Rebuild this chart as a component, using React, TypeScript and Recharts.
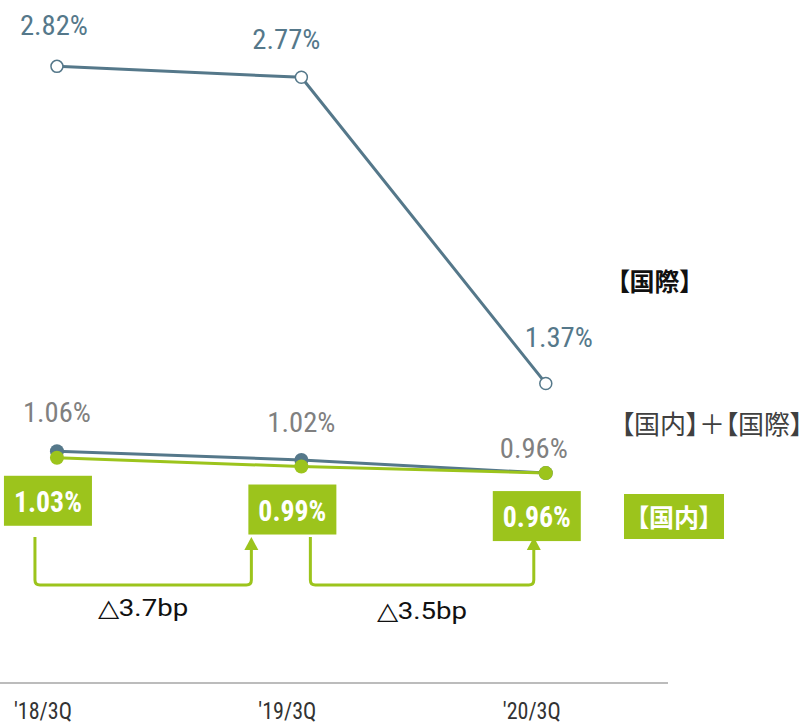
import { LineChart, Line, XAxis, YAxis, LabelList, ReferenceLine } from 'recharts';

const periods = ["'18/3Q", "'19/3Q", "'20/3Q"];
const international = [2.82, 2.77, 1.37];
const combined = [1.06, 1.02, 0.96];
const domestic = [1.03, 0.99, 0.96];
const deltas = ['△3.7bp', '△3.5bp'];

const SLATE = '#55788a';
const GREEN = '#9cc41c';
const GRAY = '#808080';
const NUM_FONT = "'Liberation Sans Narrow', 'Roboto Condensed', Roboto, sans-serif";
const JP_FONT = "'Noto Sans CJK JP', sans-serif";

const data = periods.map((p, i) => ({
  idx: i,
  period: p,
  international: international[i],
  combined: combined[i],
  domestic: domestic[i],
}));

// label offsets from each point, by index
const intlOffsets = [[-3, -41], [-15, -38], [13, -46]];
const combOffsets = [[0, -39], [0, -38], [-12, -25]];

const valueLabel = (offsets: number[][], color: string) => (props: any) => {
  const { x, y, value, index } = props;
  const [dx, dy] = offsets[index];
  return (
    <text
      x={x + dx}
      y={y + dy + 10}
      textAnchor="middle"
      fill={color}
      fontSize={28}
      fontFamily={NUM_FONT}
      textLength={68}
      lengthAdjust="spacingAndGlyphs"
    >
      {value.toFixed(2)}%
    </text>
  );
};

const boxLabel = (props: any) => {
  const { x, y, value } = props;
  return (
    <g>
      <rect x={x - 53} y={y + 18} width={88} height={50} fill={GREEN} />
      <text
        x={x - 9}
        y={y + 54}
        textAnchor="middle"
        fill="#fff"
        fontSize={29}
        fontWeight="bold"
        fontFamily={NUM_FONT}
        textLength={68}
        lengthAdjust="spacingAndGlyphs"
      >
        {value.toFixed(2)}%
      </text>
    </g>
  );
};

const PeriodTick = (props: any) => {
  const { x, y, payload } = props;
  return (
    <text
      x={x - 14}
      y={y + 28}
      textAnchor="middle"
      fill="#333"
      fontSize={23}
      fontFamily={NUM_FONT}
      textLength={58}
      lengthAdjust="spacingAndGlyphs"
    >
      {periods[payload.value]}
    </text>
  );
};

const bracketEnds = [[-22, -50], [9, -12]];

const bracket = (n: number) => (props: any) => {
  const { x1, y1, x2 } = props;
  const [a, b] = bracketEnds[n];
  const l = x1 + a;
  const r = x2 + b;
  const top = y1 - 48;
  const rad = 5;
  const d = `M${l},${top} L${l},${y1 - rad} Q${l},${y1} ${l + rad},${y1} L${r - rad},${y1} Q${r},${y1} ${r},${y1 - rad} L${r},${top + 12}`;
  return (
    <g>
      <path d={d} fill="none" stroke={GREEN} strokeWidth={3} />
      <path d={`M${r - 7},${top + 13} L${r},${top} L${r + 7},${top + 13} Z`} fill={GREEN} />
      <text
        x={(l + r) / 2}
        y={y1 + 31 + n * 3}
        textAnchor="middle"
        fill="#111"
        fontSize={24}
        fontFamily="Roboto, sans-serif"
        textLength={90}
        lengthAdjust="spacingAndGlyphs"
      >
        {deltas[n]}
      </text>
    </g>
  );
};

const BRACKET_LEVEL = 0.448;

export default function App() {
  return (
    <div style={{ position: 'absolute', left: 0, top: 0, width: 810, height: 723, background: '#fff' }}>
      <LineChart
        width={810}
        height={723}
        data={data}
        margin={{ top: 27, right: 142, bottom: 0, left: 0 }}
      >
        <XAxis
          dataKey="idx"
          type="number"
          domain={[-0.233, 2.5]}
          ticks={[0, 1, 2]}
          height={40}
          axisLine={{ stroke: '#a6a6a6', strokeWidth: 1.5 }}
          tickLine={false}
          tick={<PeriodTick />}
        />
        <YAxis type="number" domain={[0, 3]} hide />
        <ReferenceLine
          segment={[{ x: 0, y: BRACKET_LEVEL }, { x: 1, y: BRACKET_LEVEL }]}
          ifOverflow="visible"
          shape={bracket(0)}
        />
        <ReferenceLine
          segment={[{ x: 1, y: BRACKET_LEVEL }, { x: 2, y: BRACKET_LEVEL }]}
          ifOverflow="visible"
          shape={bracket(1)}
        />
        <Line
          dataKey="international"
          stroke={SLATE}
          strokeWidth={3}
          dot={{ r: 6, fill: '#fff', stroke: SLATE, strokeWidth: 1.5 }}
          isAnimationActive={false}
        >
          <LabelList dataKey="international" content={valueLabel(intlOffsets, SLATE)} />
        </Line>
        <Line
          dataKey="combined"
          stroke={SLATE}
          strokeWidth={3}
          dot={{ r: 7, fill: SLATE, stroke: SLATE, strokeWidth: 0 }}
          isAnimationActive={false}
        >
          <LabelList dataKey="combined" content={valueLabel(combOffsets, GRAY)} />
        </Line>
        <Line
          dataKey="domestic"
          stroke={GREEN}
          strokeWidth={3}
          dot={{ r: 7, fill: GREEN, stroke: GREEN, strokeWidth: 0 }}
          isAnimationActive={false}
        >
          <LabelList dataKey="domestic" content={boxLabel} />
        </Line>
      </LineChart>
      <div
        style={{
          position: 'absolute', left: 617, top: 263, fontSize: 25, fontWeight: 'bold',
          fontFamily: JP_FONT, fontFeatureSettings: '"palt"', color: '#111', lineHeight: '34px',
          whiteSpace: 'nowrap',
        }}
      >
        【国際】
      </div>
      <div
        style={{
          position: 'absolute', left: 621, top: 406, fontSize: 26, fontWeight: 400,
          fontFamily: JP_FONT, fontFeatureSettings: '"palt"', color: '#404040', lineHeight: '34px',
          whiteSpace: 'nowrap',
        }}
      >
        【国内】＋【国際】
      </div>
      <div
        style={{
          position: 'absolute', left: 624, top: 494, width: 100, height: 45, background: GREEN,
          color: '#fff', fontSize: 25, fontWeight: 'bold', fontFamily: JP_FONT,
          fontFeatureSettings: '"palt"', lineHeight: '45px', textAlign: 'center', whiteSpace: 'nowrap',
        }}
      >
        【国内】
      </div>
    </div>
  );
}
